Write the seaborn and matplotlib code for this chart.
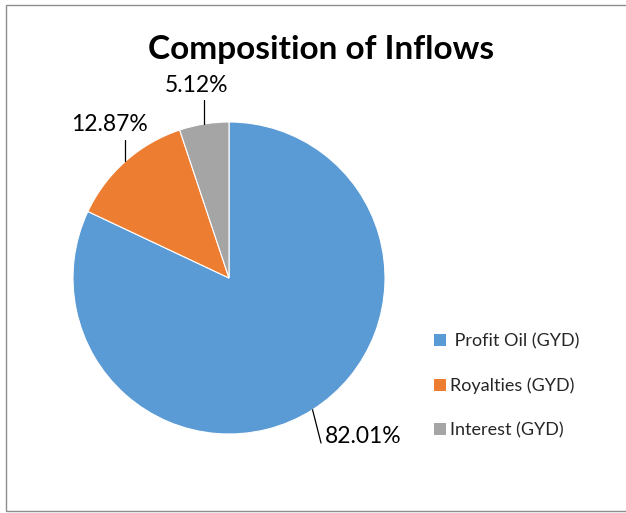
import numpy as np
import matplotlib
matplotlib.use("Agg")
import matplotlib.pyplot as plt
from matplotlib.patches import Rectangle, Patch
import seaborn as sns

# Inflow composition (share of total, %)
categories = [" Profit Oil (GYD)", "Royalties (GYD)", "Interest (GYD)"]
shares = [82.01, 12.87, 5.12]
value_labels = ["82.01%", "12.87%", "5.12%"]
colors = ["#5B9BD5", "#ED7D31", "#A5A5A5"]

sns.set_theme(style="white")
plt.rcParams["font.family"] = ["Lato", "DejaVu Sans"]

fig = plt.figure(figsize=(6.26, 5.13), dpi=100)
fig.patch.set_facecolor("white")

# outer chart frame
fig.add_artist(Rectangle((6 / 626, 2 / 513), 1.2, 506 / 513,
                         transform=fig.transFigure, fill=False,
                         edgecolor="#8E8E8E", linewidth=1.0))

ax = fig.add_axes([73 / 626, 79 / 513, 312 / 626, 312 / 513])
wedges, _ = ax.pie(shares, colors=colors, startangle=90, counterclock=False,
                   radius=1.0, wedgeprops=dict(edgecolor="white", linewidth=0.8))
ax.set_xlim(-1, 1)
ax.set_ylim(-1, 1)
ax.set_aspect("equal")
ax.axis("off")

# leader lines run from each slice's mid-angle on the rim to its label
leader_ends = [(0.59, -1.058), (None, 0.885), (None, 1.141)]
text_pos = [(0.615, -1.013, "left"), (-0.763, 0.981, "center"), (-0.205, 1.237, "center")]
for w, lab, end, tp in zip(wedges, value_labels, leader_ends, text_pos):
    mid = np.deg2rad((w.theta1 + w.theta2) / 2)
    x0, y0 = np.cos(mid), np.sin(mid)
    ex = end[0] if end[0] is not None else x0
    ey = end[1]
    ax.plot([x0, ex], [y0, ey], color="black", linewidth=0.9, clip_on=False)
    ax.text(tp[0], tp[1], lab, ha=tp[2], va="center", fontsize=16.5,
            color="black", clip_on=False)

fig.text(321 / 626, 1 - 50 / 513, "Composition of Inflows", ha="center",
         va="center", fontsize=24, fontweight="bold", color="black")

handles = [Patch(facecolor=c, edgecolor="none") for c in colors]
leg = fig.legend(handles, categories, loc="upper left",
                 bbox_to_anchor=(418 / 626, 1 - 317 / 513), frameon=False,
                 fontsize=13, handlelength=0.65, handleheight=0.65,
                 handletextpad=0.25, labelspacing=1.55)

fig.savefig("out.png", dpi=100, facecolor="white")
